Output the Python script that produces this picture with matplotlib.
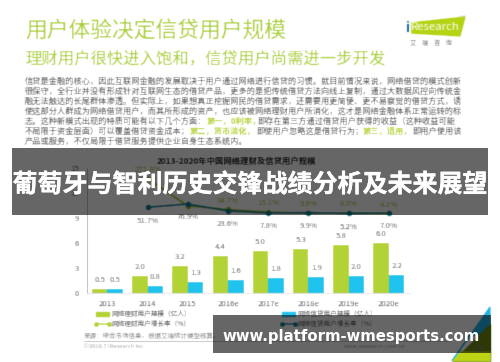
import numpy as np
from matplotlib import pyplot as plt
from matplotlib import patheffects as pe
from matplotlib.patches import Polygon, Rectangle

plt.rcParams["font.family"] = ["Noto Sans CJK SC", "DejaVu Sans"]

W, H = 500, 362

years = ["2013", "2014", "2015", "2016e", "2017e", "2018e", "2019e", "2020e"]
licai_users = [0.5, 2.0, 3.2, 4.4, 5.0, 5.3, 5.8, 6.0]
xindai_users = [0.5, 0.8, 1.3, 1.6, 1.8, 1.9, 2.0, 2.2]
licai_growth = [271.8, 62.0, 34.7, 15.1, 5.6, 8.5, 4.2]
licai_growth_labels = ["271.8%", "", "34.7%", "15.1%", "5.6%", "8.5%", "4.2%"]
xindai_growth = [51.7, 76.9, 23.6, 7.8, 9.9, 5.2, 7.0]
y_ticks = [0, 3, 6, 9, 12, 15]

heading = "用户体验决定信贷用户规模"
subheading = "理财用户很快进入饱和，信贷用户尚需进一步开发"
body_lines = [
    "信贷是金融的核心，因此互联网金融的发展取决于用户通过网络进行信贷的习惯。就目前情况来说，网络借贷的模式创新",
    "很保守，全行业并没有形成针对互联网生态的借贷产品，更多的是把传统借贷方法向线上复制，通过大数据风控向传统金",
    "融无法触达的长尾群体渗透。但实际上，如果想真正挖掘网民的借贷需求，还需要用更简便、更不易察觉的借贷方式，诱",
    "使这部分人群成为网络借贷用户，而其所形成的资产，也应该被网络理财用户所消化，这才是网络金融体系正常运转的标",
]
body_line5 = ["志。这种新模式出现的特质可能有以下几个方面：", "第一，0利率，", "即存在第三方通过借贷用户获得的收益（这种收益可能"]
body_line6 = ["不局限于资金层面）可以覆盖借贷资金成本；", "第二，货币淡化，", "即使用户忽略这是借贷行为；", "第三，适用，", "即用户使用该"]
body_line7 = "产品或服务，不仅局限于借贷服务提供企业自身生态系统内。"
chart_title = "2013-2020年中国网络理财及信贷用户规模"
band_title = "葡萄牙与智利历史交锋战绩分析及未来展望"
band_url = "www.platform-wmesports.com"

GREEN = "#b2d235"
BLUE = "#1fc4ee"
TEAL = "#0f7f93"
TEXT = "#555555"
BODY = "#505050"
BODY_SIZE = 5.92


def blur(im, dpi):
    # soft look of the low-res reference
    pad = 2
    im = np.pad(im, [(pad, pad), (pad, pad), (0, 0)], "constant")
    k = np.array([0.15, 0.7, 0.15])
    for axis in (0, 1):
        im = np.apply_along_axis(lambda c: np.convolve(c, k, mode="same"), axis, im)
    return im, -pad, -pad


def px_axes(left, top, right, bottom, z):
    ax = fig.add_axes([left / W, 1 - bottom / H, (right - left) / W, (bottom - top) / H], zorder=z)
    ax.patch.set_alpha(0)
    return ax


fig = plt.figure(figsize=(W / 100, H / 100), dpi=100, facecolor="white")

# page: headings, body text, logo, footer
base = px_axes(0, 0, W, H, 0)
base.set_xlim(0, W)
base.set_ylim(H, 0)
base.axis("off")
base.set_agg_filter(blur)

base.text(25, 32, heading, fontsize=15.7, color="#a8ce3a", va="center")
base.text(25, 59, subheading, fontsize=11.8, color="#a8ce3a", va="center")
for i, line in enumerate(body_lines):
    base.text(25, 81 + i * 10, line, fontsize=BODY_SIZE, color=BODY, va="center")
for i, (s, x) in enumerate(zip(body_line5, [25, 207, 257])):
    base.text(x, 121, s, fontsize=BODY_SIZE, color=GREEN if i == 1 else BODY, va="center", weight="bold" if i == 1 else "normal")
for i, (s, x) in enumerate(zip(body_line6, [25, 190, 256, 363, 412])):
    base.text(x, 131, s, fontsize=BODY_SIZE, color=GREEN if i in (1, 3) else BODY, va="center", weight="bold" if i in (1, 3) else "normal")
base.text(25, 141, body_line7, fontsize=BODY_SIZE, color=BODY, va="center")

base.add_patch(Polygon([(410, 23), (465, 17), (460, 36), (410, 33)], color="#b4d414"))
base.add_patch(Rectangle((404, 20), 6, 15, color="#ffffff"))
base.text(411, 27.5, "Research", fontsize=8.2, color="white", va="center")
base.text(405, 27.5, "i", fontsize=9.5, color="#1a6aa5", va="center", weight="bold")
base.text(431, 43, "艾    瑞    咨    询", fontsize=4.6, color="#777777", va="center", ha="center")

base.text(84, 336, "来源：综合市场信息，根据艾瑞统计模型核算。", fontsize=4.7, color="#888888", va="center")
base.plot([84, 450], [341, 341], color="#999999", lw=0.7)
base.text(84, 347, "©2016.7 iResearch Inc", fontsize=4.2, color="#999999", va="center")
base.text(344, 347, "www.iresearch.com.cn", fontsize=4.2, color="#999999", va="center")
base.text(478, 350, "11", fontsize=6.5, color="#888888", va="center", ha="center")

base.add_patch(Polygon([(490, 307), (490, 335), (470, 335), (452, 361)], color="#1fb4e8"))
base.add_patch(Polygon([(490, 324), (490, 361), (453, 361)], color="#6f8c14"))
base.add_patch(Polygon([(490, 352), (490, 361), (453, 361), (461, 352)], color="#bcd414"))

base.text(236.5, 161, chart_title, fontsize=6.0, color="#222222", va="center", ha="center", weight="bold")

# legend rows
base.add_patch(Rectangle((96, 311.5), 13, 4, color=GREEN))
base.plot([96, 109], [324, 324], color=GREEN, lw=1.1, marker="o", ms=2.5)
base.add_patch(Rectangle((282, 311.5), 13, 4, color=BLUE))
base.plot([282, 295], [324, 324], color=TEAL, lw=1.1, marker="o", ms=2.5)
base.text(111, 313.5, "网络理财用户规模（亿人）", fontsize=4.8, color=TEXT, va="center")
base.text(111, 324, "网络理财用户增长率（%）", fontsize=4.8, color=TEXT, va="center")
base.text(297, 313.5, "网络信贷用户规模（亿人）", fontsize=4.8, color=TEXT, va="center")
base.text(297, 324, "网络信贷用户增长率（%）", fontsize=4.8, color=TEXT, va="center")

# chart
ax = px_axes(87.3, 168, 409, 293, 1)
ax.set_agg_filter(blur)
x = np.arange(len(years))
bar_w = 0.385
ax.bar(x - bar_w / 2, licai_users, bar_w, color=GREEN)
ax.bar(x + bar_w / 2, xindai_users, bar_w, color=BLUE)
for xi, a, b in zip(x, licai_users, xindai_users):
    ax.annotate(f"{a:.1f}", (xi - bar_w / 2, a), xytext=(0, 5), textcoords="offset points", ha="center", fontsize=5.6, color=TEXT)
    ax.annotate(f"{b:.1f}", (xi + bar_w / 2, b), xytext=(0, 5), textcoords="offset points", ha="center", fontsize=5.6, color=TEXT)
ax.set_xlim(-0.5, len(years) - 0.5)
ax.set_ylim(0, 15)
ax.set_xticks(x, years, fontsize=5.6, color=TEXT)
ax.set_yticks(y_ticks, [str(t) for t in y_ticks], fontsize=5.6, color=TEXT)
ax.tick_params(length=0, pad=6)
ax.tick_params(axis="x", pad=5)
for side in ("top", "right"):
    ax.spines[side].set_visible(False)
ax.spines["left"].set_color("#888888")
ax.spines["left"].set_linewidth(0.7)
ax.spines["bottom"].set_color("#cccccc")
ax.spines["bottom"].set_linewidth(0.5)

# growth lines on their own hidden scale
ax2 = ax.twinx()
ax2.patch.set_alpha(0)
ax2.set_agg_filter(blur)
ax2.set_ylim(-607.7, 353.8)
ax2.axis("off")
ax2.plot(x[1:], licai_growth, color="#a0bf2a", lw=1.2, marker="o", ms=3)
ax2.plot(x[1:], xindai_growth, color=TEAL, lw=1.2, marker="o", ms=3)
for xi, v, s in zip(x[1:], licai_growth, licai_growth_labels):
    ax2.annotate(s, (xi, v), xytext=(0, 5), textcoords="offset points", ha="center", fontsize=5.6, color="#a0bf2a")
for xi, v in zip(x[1:], xindai_growth):
    ax2.annotate(f"{v}%", (xi, v), xytext=(0, -11), textcoords="offset points", ha="center", fontsize=5.6, color=TEXT)

# dark overlay bands with the big white text
top = px_axes(0, 0, W, H, 3)
top.set_xlim(0, W)
top.set_ylim(H, 0)
top.axis("off")
top.add_patch(Rectangle((12, 148), 476, 67, color="black", alpha=0.6, lw=0))
top.add_patch(Rectangle((213, 315), 278, 38, color="black", alpha=0.6, lw=0))
top.text(250, 185, band_title, fontsize=18, color="white", weight="bold", va="center", ha="center",
         path_effects=[pe.withStroke(linewidth=0.25, foreground="white")])
top.text(351, 336, band_url, fontsize=10.7, color="white", weight="bold", va="center", ha="center", family="DejaVu Sans")

fig.savefig("out.png", dpi=100)
